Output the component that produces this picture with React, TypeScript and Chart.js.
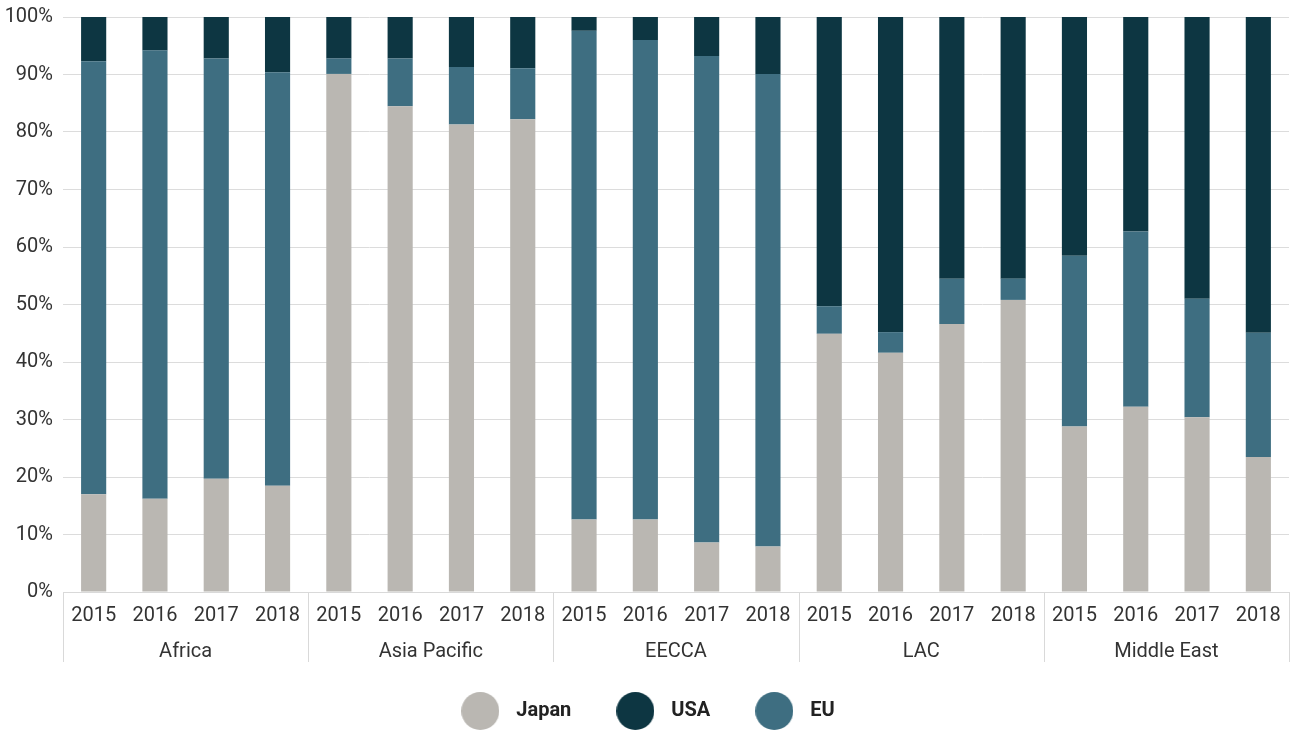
import React, { useEffect, useRef } from "react";
import { Chart, registerables } from "chart.js";

Chart.register(...registerables);

const regions = ["Africa", "Asia Pacific", "EECCA", "LAC", "Middle East"];
const years = ["2015", "2016", "2017", "2018"];

const japan = [17, 16.2, 19.7, 18.5, 90.1, 84.5, 81.3, 82.2, 12.6, 12.6, 8.6, 7.9, 44.9, 41.6, 46.6, 50.8, 28.8, 32.2, 30.4, 23.5];
const eu = [75.3, 78, 73.1, 71.9, 2.7, 8.3, 10, 8.9, 85, 83.4, 84.6, 82.2, 4.8, 3.6, 7.9, 3.7, 29.7, 30.5, 20.6, 21.6];
const usa = [7.7, 5.8, 7.2, 9.6, 7.2, 7.2, 8.7, 8.9, 2.4, 4, 6.8, 9.9, 50.3, 54.8, 45.5, 45.5, 41.5, 37.3, 49, 54.9];

const yTicks = [0, 10, 20, 30, 40, 50, 60, 70, 80, 90, 100];
const legendOrder = ["Japan", "USA", "EU"];

const COL_JAPAN = "#bab7b2";
const COL_USA = "#0d3642";
const COL_EU = "#3e6e81";
const FONT = "Roboto, 'Noto Sans', sans-serif";

function dot(color: string, d: number) {
  const c = document.createElement("canvas");
  c.width = d;
  c.height = d;
  const ctx = c.getContext("2d")!;
  ctx.fillStyle = color;
  ctx.beginPath();
  ctx.arc(d / 2, d / 2, d / 2, 0, Math.PI * 2);
  ctx.fill();
  return c;
}

export default function App() {
  const ref = useRef<HTMLCanvasElement | null>(null);
  useEffect(() => {
    if (!ref.current) return;
    const labels: string[] = [];
    regions.forEach(() => years.forEach((y) => labels.push(y)));

    const separators = {
      id: "separators",
      afterDraw(chart: any) {
        const { ctx, chartArea } = chart;
        const x = chart.scales.x;
        const x2 = chart.scales.x2;
        const step = (x.right - x.left) / labels.length;
        ctx.save();
        ctx.strokeStyle = "#d9d9d9";
        ctx.lineWidth = 1;
        for (let i = 0; i <= labels.length; i += years.length) {
          const px = Math.round(x.left + i * step) + 0.5;
          ctx.beginPath();
          ctx.moveTo(px, chartArea.bottom);
          ctx.lineTo(px, x2.top + 36);
          ctx.stroke();
        }
        ctx.restore();
      },
    };

    const chart = new Chart(ref.current, {
      type: "bar",
      data: {
        labels,
        datasets: [
          { label: "Japan", data: japan, backgroundColor: COL_JAPAN, pointStyle: dot(COL_JAPAN, 38) as any },
          { label: "EU", data: eu, backgroundColor: COL_EU, pointStyle: dot(COL_EU, 38) as any },
          { label: "USA", data: usa, backgroundColor: COL_USA, pointStyle: dot(COL_USA, 38) as any },
        ].map((d: any) => ({ ...d, stack: "s", barPercentage: 0.41, categoryPercentage: 1, borderWidth: 0 })),
      },
      options: {
        animation: false,
        responsive: true,
        maintainAspectRatio: false,
        layout: { padding: { top: 17, right: 4, left: 0, bottom: 0 } },
        plugins: {
          tooltip: { enabled: false },
          legend: {
            position: "bottom",
            labels: {
              usePointStyle: true,
              pointStyleWidth: 52,
              padding: 38,
              color: "#222",
              font: { family: FONT, size: 20, weight: "bold" },
              sort: (a: any, b: any) => legendOrder.indexOf(a.text) - legendOrder.indexOf(b.text),
            },
          },
        },
        scales: {
          x: {
            stacked: true,
            offset: true,
            grid: { display: false, drawTicks: false },
            border: { display: true, color: "#d9d9d9" },
            ticks: { color: "#333", padding: 12, font: { family: FONT, size: 20 }, maxRotation: 0, autoSkip: false },
            afterFit(scale: any) {
              scale.height = 34;
            },
          },
          x2: {
            type: "category",
            labels: regions,
            position: "bottom",
            offset: true,
            grid: { display: false, drawTicks: false },
            border: { display: false },
            ticks: { color: "#333", padding: 14, font: { family: FONT, size: 20 }, maxRotation: 0, autoSkip: false },
            afterFit(scale: any) {
              scale.height = 37;
            },
          },
          y: {
            stacked: true,
            min: 0,
            max: 100,
            afterBuildTicks(scale: any) {
              scale.ticks = yTicks.map((v) => ({ value: v }));
            },
            afterFit(scale: any) {
              scale.width = 63;
              scale.paddingTop = 0;
              scale.paddingBottom = 0;
            },
            grid: { color: "#dcdcdc", drawTicks: false },
            border: { display: false },
            ticks: {
              color: "#333",
              padding: 10,
              font: { family: FONT, size: 20 },
              callback: (v: any) => v + "%",
            },
          },
        },
      },
      plugins: [separators],
    });
    return () => chart.destroy();
  }, []);

  return (
    <div style={{ position: "fixed", left: 0, top: 0, width: "1293px", height: "731px", background: "#fff" }}>
      <canvas ref={ref} />
    </div>
  );
}
